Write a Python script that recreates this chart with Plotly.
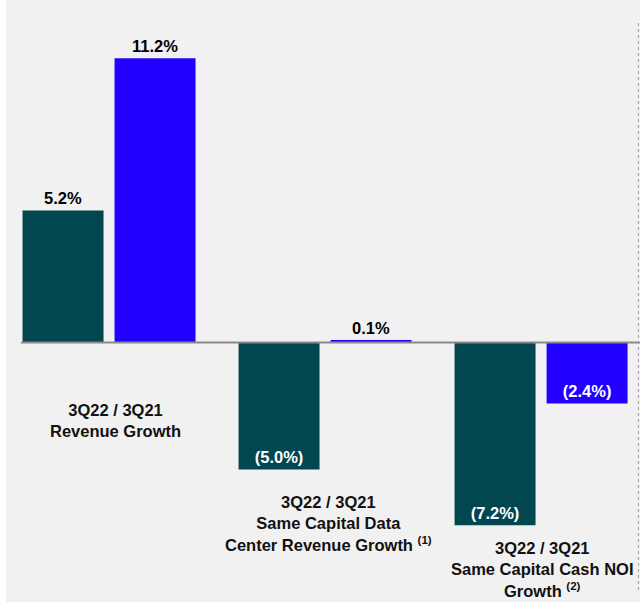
import plotly.graph_objects as go

categories = ["Revenue Growth", "Same Capital Data Center Revenue Growth", "Same Capital Cash NOI Growth"]
category_labels = [
    "<b>3Q22 / 3Q21<br>Revenue Growth</b>",
    "<b>3Q22 / 3Q21<br>Same Capital Data<br>Center Revenue Growth <sup>(1)</sup></b>",
    "<b>3Q22 / 3Q21<br>Same Capital Cash NOI<br>Growth <sup>(2)</sup></b>",
]
series_a = [5.2, -5.0, -7.2]   # dark teal
series_b = [11.2, 0.1, -2.4]   # blue

TEAL = "#02474F"
BLUE = "#2200FF"
FONT = "Liberation Sans, Arial, sans-serif"


def fmt(v):
    return f"{v:.1f}%" if v >= 0 else f"({abs(v):.1f}%)"


def bar(vals, color):
    return go.Bar(
        x=categories, y=vals, marker=dict(color=color, line=dict(width=0)),
        text=[fmt(v) for v in vals],
        textposition=["outside" if v >= 0 else "inside" for v in vals],
        insidetextanchor="end", textangle=0,
        insidetextfont=dict(color="white", size=16.5, family=FONT, weight="bold"),
        outsidetextfont=dict(color="black", size=16.5, family=FONT, weight="bold"),
        cliponaxis=False, hoverinfo="skip", showlegend=False,
    )


fig = go.Figure([bar(series_a, TEAL), bar(series_b, BLUE)])

label_y = [0.3007, 0.1296, 0.0548]
label_shift = [6, 3, 1]
for cat, lab, y, xs in zip(categories, category_labels, label_y, label_shift):
    fig.add_annotation(x=cat, xref="x", y=y, yref="paper", text=lab, showarrow=False,
                       xshift=xs, yanchor="middle", xanchor="center", align="center",
                       font=dict(size=16.5, color="#111", family=FONT))

# zero baseline
fig.add_shape(type="line", xref="paper", yref="y", x0=(21 - 6) / 634, x1=1, y0=0, y1=0,
              line=dict(color="#8a8a8a", width=2))
# right dashed border
fig.add_shape(type="line", xref="paper", yref="paper", x0=0.9975, x1=0.9975,
              y0=1 - 590 / 602, y1=1 - 20 / 602, line=dict(color="#a0a0a0", width=1, dash="dot"))

fig.update_layout(
    width=640, height=602,
    margin=dict(l=6, r=0, t=0, b=0),
    paper_bgcolor="white", plot_bgcolor="#F1F1F1",
    barmode="group", bargap=0.148, bargroupgap=0.12,
    xaxis=dict(range=[-0.477, 2.458], showticklabels=False, showgrid=False, zeroline=False,
               showline=False, ticks=""),
    yaxis=dict(range=[-10.22, 13.49], visible=False, showgrid=False, zeroline=False),
    font=dict(family=FONT),
)

fig.write_html("out.html", config={"displayModeBar": False},
               post_script="document.body.style.margin='0';document.body.style.overflow='hidden';")
